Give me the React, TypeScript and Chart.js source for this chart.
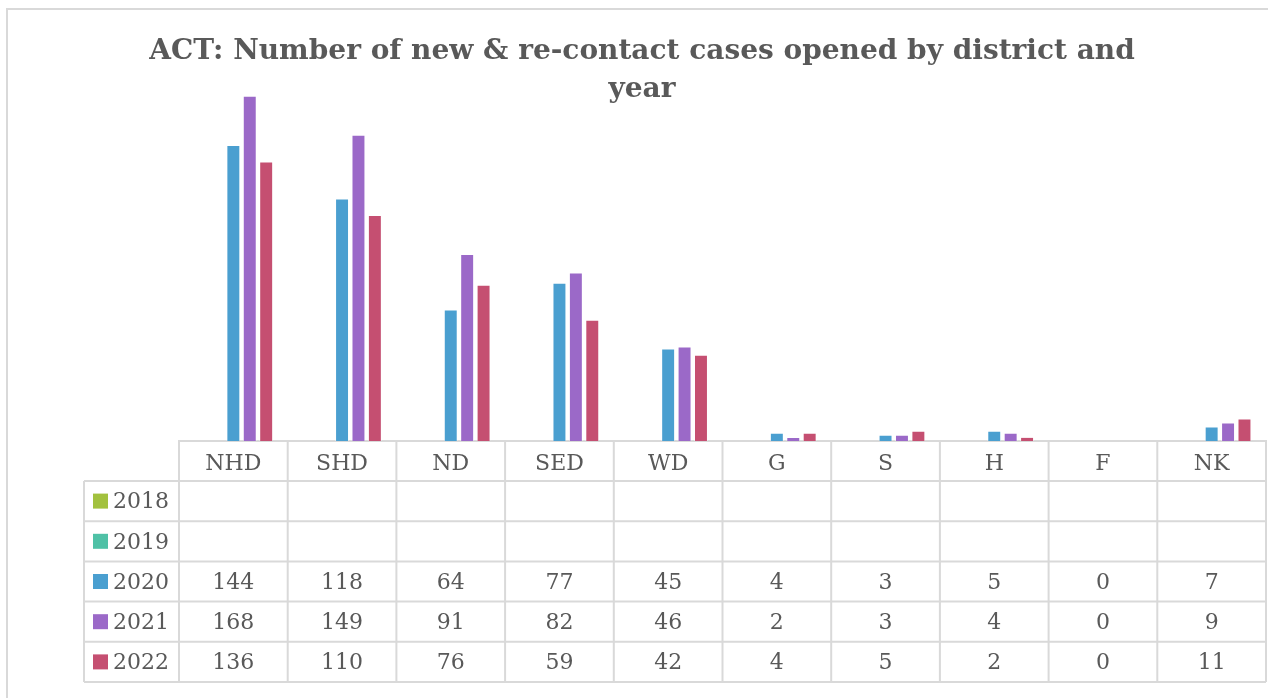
import React, { useEffect, useRef } from "react";
import { Chart, registerables } from "chart.js";

Chart.register(...registerables);

const titleLines = ["ACT: Number of new & re-contact cases opened by district and", "year"];
const categories = ["NHD", "SHD", "ND", "SED", "WD", "G", "S", "H", "F", "NK"];
const seriesLabels = ["2018", "2019", "2020", "2021", "2022"];
const v2018: (number | null)[] = [null, null, null, null, null, null, null, null, null, null];
const v2019: (number | null)[] = [null, null, null, null, null, null, null, null, null, null];
const v2020 = [144, 118, 64, 77, 45, 4, 3, 5, 0, 7];
const v2021 = [168, 149, 91, 82, 46, 2, 3, 4, 0, 9];
const v2022 = [136, 110, 76, 59, 42, 4, 5, 2, 0, 11];
const seriesColors = ["#A2C13E", "#4FC1A6", "#4A9FD0", "#9B69C8", "#C54F71"];

const GRID = "#D9D9D9";
const TEXT = "#595959";
const FONT = '"DejaVu Serif", "Liberation Serif", serif';

const tablePlugin = {
  id: "dataTable",
  afterDraw(chart: any) {
    const ctx = chart.ctx as CanvasRenderingContext2D;
    const xs = chart.scales.x;
    const left = xs.left;
    const right = xs.right;
    const n = chart.data.labels.length;
    const cw = (right - left) / n;
    const top = chart.chartArea.bottom;
    const headerH = 40;
    const rowH = 40.2;
    const ds = chart.data.datasets;
    const rows = ds.length;
    const bodyTop = top + headerH;
    const bottom = bodyTop + rows * rowH;
    const legendLeft = 84;

    ctx.save();
    // outer frame
    ctx.strokeStyle = GRID;
    ctx.lineWidth = 2;
    ctx.beginPath();
    ctx.moveTo(7, 700);
    ctx.lineTo(7, 9);
    ctx.lineTo(1270, 9);
    ctx.stroke();

    // title
    ctx.fillStyle = TEXT;
    ctx.font = "bold 28px " + FONT;
    ctx.textAlign = "center";
    ctx.textBaseline = "alphabetic";
    ctx.fillText(titleLines[0], 642, 59);
    ctx.fillText(titleLines[1], 642, 97);

    // table lines
    ctx.strokeStyle = GRID;
    ctx.lineWidth = 2;
    ctx.beginPath();
    for (let i = 0; i <= n; i++) {
      const x = left + i * cw;
      ctx.moveTo(x, top);
      ctx.lineTo(x, bottom);
    }
    for (let r = 0; r <= rows; r++) {
      const y = bodyTop + r * rowH;
      ctx.moveTo(legendLeft, y);
      ctx.lineTo(right, y);
    }
    ctx.moveTo(legendLeft, bodyTop);
    ctx.lineTo(legendLeft, bottom);
    ctx.stroke();

    // legend + values
    ctx.font = "22px " + FONT;
    ctx.textBaseline = "middle";
    for (let r = 0; r < rows; r++) {
      const yc = bodyTop + (r + 0.5) * rowH;
      ctx.fillStyle = ds[r].backgroundColor;
      ctx.fillRect(93, yc - 7.5, 15, 15);
      ctx.fillStyle = TEXT;
      ctx.textAlign = "left";
      ctx.fillText(ds[r].label, 113, yc + 1.5);
      ctx.textAlign = "center";
      ds[r].data.forEach((v: number | null, i: number) => {
        if (v === null || v === undefined) return;
        ctx.fillText(String(v), left + (i + 0.5) * cw, yc + 1.5);
      });
    }
    ctx.restore();
  },
};

export default function App() {
  const ref = useRef<HTMLCanvasElement>(null);
  useEffect(() => {
    document.body.style.margin = "0";
    const values = [v2018, v2019, v2020, v2021, v2022];
    const chart = new Chart(ref.current!, {
      type: "bar",
      data: {
        labels: categories,
        datasets: seriesLabels.map((label, i) => ({
          label,
          data: values[i],
          backgroundColor: seriesColors[i],
          borderColor: "rgba(255,255,255,0.4)",
          borderWidth: 1,
          categoryPercentage: 0.755,
          barPercentage: 0.85,
        })),
      },
      options: {
        responsive: false,
        animation: false,
        layout: { padding: { left: 179, right: 2, top: 71, bottom: 217 } },
        plugins: {
          legend: { display: false },
          title: { display: false },
          tooltip: { enabled: false },
        },
        scales: {
          y: { display: false, min: 0, max: 180 },
          x: {
            grid: { display: false, drawTicks: false },
            border: { display: true, color: GRID, width: 2 },
            ticks: { color: TEXT, font: { family: FONT, size: 22 }, padding: 10, maxRotation: 0, autoSkip: false },
            afterFit: (scale: any) => {
              scale.height = 40;
            },
          },
        },
      },
      plugins: [tablePlugin],
    });
    return () => chart.destroy();
  }, []);
  return (
    <div style={{ width: 1268, height: 698, background: "#fff" }}>
      <canvas ref={ref} width={1268} height={698} style={{ display: "block" }} />
    </div>
  );
}
